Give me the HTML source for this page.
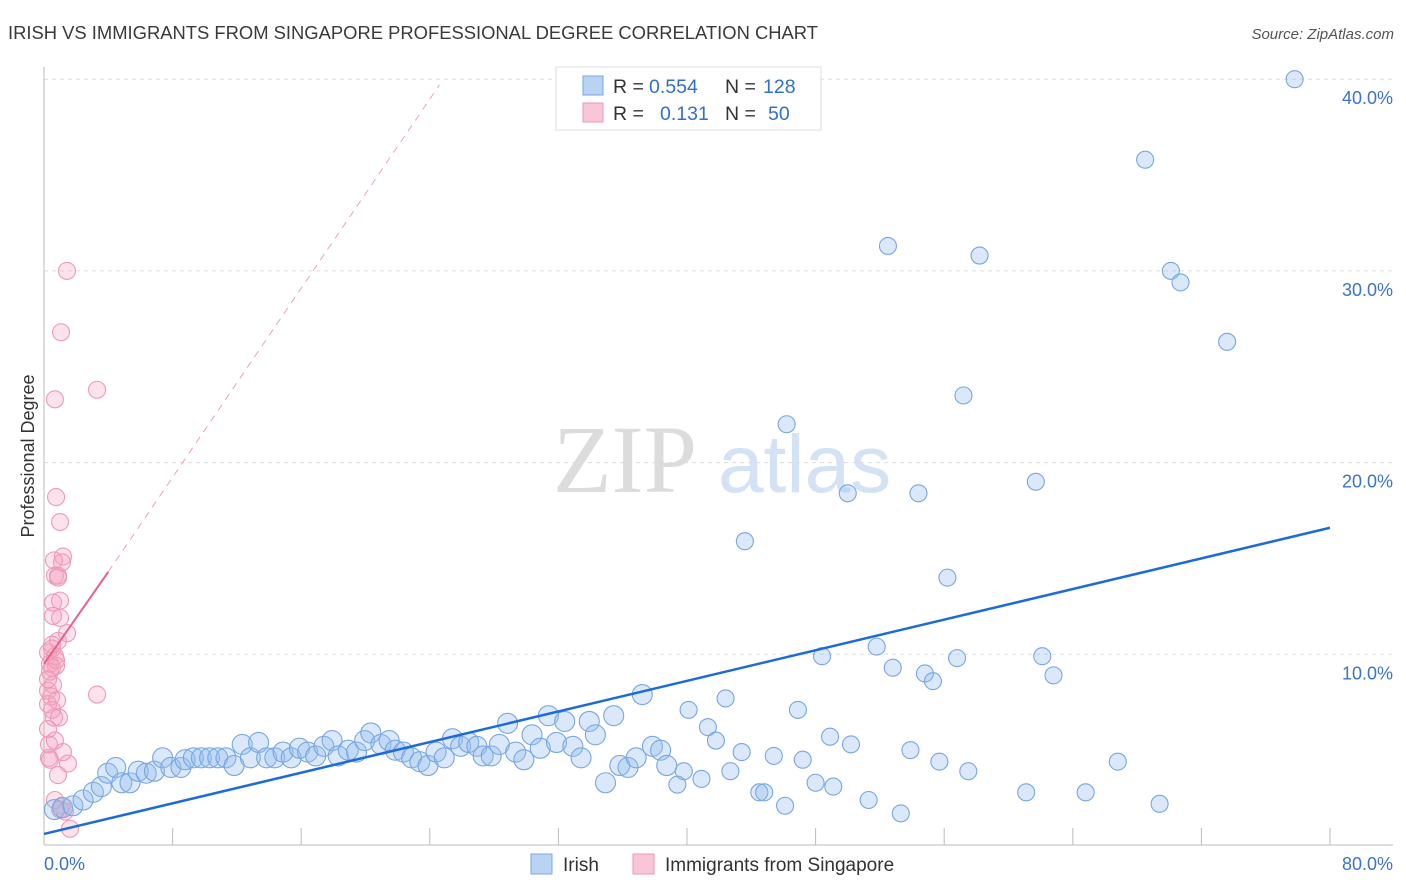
<!DOCTYPE html>
<html><head><meta charset="utf-8"><style>
html,body{margin:0;padding:0;background:#fff;}
svg{display:block;font-family:"Liberation Sans",sans-serif;}
</style></head><body>
<svg id="chart" width="1406" height="892" viewBox="0 0 1406 892">
<text x="8" y="39" font-size="18.4" fill="#3a3a3a">IRISH VS IMMIGRANTS FROM SINGAPORE PROFESSIONAL DEGREE CORRELATION CHART</text>
<text x="1394" y="39" font-size="15" fill="#555" font-style="italic" text-anchor="end">Source: ZipAtlas.com</text>
<g>
<text x="553" y="492" font-size="96" font-family="Liberation Serif,serif" fill="#dcdcdc">ZIP</text>
<text x="718" y="492" font-size="82" fill="#d3e2f4">atlas</text>
</g>
<g id="grid"></g>
<g id="axes"></g>
<g id="marks"></g>
<text transform="translate(34,456) rotate(-90)" font-size="18" fill="#333" text-anchor="middle">Professional Degree</text>
<g>
<rect x="556" y="67" width="265" height="63" fill="#fff" stroke="#ddd"/>
<rect x="583" y="76" width="20" height="19" fill="#b9d3f3" stroke="#7aa7e0"/>
<text x="613" y="93" font-size="19.5" fill="#333">R =</text>
<text x="649" y="93" font-size="19.5" fill="#2f6fd0">0.554</text>
<text x="725" y="93" font-size="19.5" fill="#333">N =</text>
<text x="763" y="93" font-size="19.5" fill="#2f6fd0">128</text>
<rect x="583" y="103" width="20" height="19" fill="#f8c6d6" stroke="#ec98b3"/>
<text x="613" y="120" font-size="19.5" fill="#333">R =</text>
<text x="660" y="120" font-size="19.5" fill="#2f6fd0">0.131</text>
<text x="725" y="120" font-size="19.5" fill="#333">N =</text>
<text x="768" y="120" font-size="19.5" fill="#2f6fd0">50</text>
</g>
<g>
<rect x="531" y="854" width="21" height="20" fill="#b9d3f3" stroke="#7aa7e0"/>
<text x="563" y="871" font-size="19" fill="#333">Irish</text>
<rect x="633" y="854" width="21" height="20" fill="#f8c6d6" stroke="#ec98b3"/>
<text x="665" y="871" font-size="19" fill="#333">Immigrants from Singapore</text>
</g>
</svg>
<script>
const irishX=[77.8,68.5,52.5,58.2,70.1,70.7,73.6,57.2,46.2,50.0,54.4,61.7,43.6,56.2,48.4,51.8,52.8,54.8,55.3,56.8,62.1,62.8,42.4,46.9,40.1,41.3,41.8,43.4,45.4,48.9,50.2,53.9,55.7,57.5,47.2,42.7,39.8,40.9,39.4,48.0,49.1,44.5,44.8,46.1,51.3,53.3,61.1,64.8,66.8,69.4,
0.65,1.16,1.80,2.43,3.07,3.57,3.96,4.46,4.84,5.35,5.86,6.36,6.87,7.38,7.89,8.52,8.78,9.29,9.79,10.3,10.81,11.32,11.83,12.33,12.84,13.35,13.85,14.36,14.87,15.38,15.89,16.4,16.9,17.41,17.92,18.3,18.93,19.44,19.95,20.33,20.96,21.47,21.85,22.36,22.87,23.38,23.89,24.39,24.9,25.41,25.92,26.42,26.93,27.32,27.82,28.33,28.84,29.34,29.85,30.36,30.87,31.38,31.88,32.39,32.9,33.41,33.92,34.3,34.93,35.44,35.82,36.33,36.84,37.22,37.85,38.36,38.74];
const irishY=[40.0,35.8,31.3,30.8,30.0,29.4,26.3,23.5,22.0,18.4,18.4,19.0,15.9,14.0,9.9,10.4,9.3,9.0,8.6,9.8,9.9,8.9,7.7,7.1,7.1,6.2,5.5,4.9,4.7,5.7,5.3,5.0,4.4,3.9,4.5,3.9,3.9,3.5,3.2,3.3,3.1,2.8,2.8,2.1,2.4,1.7,2.8,2.8,4.4,2.2,
1.9,2.0,2.1,2.4,2.8,3.1,3.8,4.1,3.3,3.3,3.9,3.8,3.9,4.6,4.1,4.1,4.5,4.6,4.6,4.6,4.6,4.6,4.2,5.3,4.6,5.4,4.6,4.6,4.9,4.6,5.1,4.9,4.7,5.2,5.5,4.7,5.0,4.9,5.5,5.9,5.3,5.5,5.0,4.9,4.6,4.4,4.2,4.9,4.6,5.6,5.2,5.4,5.2,4.7,4.7,5.3,6.4,4.9,4.5,5.8,5.1,6.8,5.4,6.5,5.2,4.6,6.5,5.8,3.3,6.8,4.2,4.1,4.6,7.9,5.2,5.0,4.2];
const sgX=[1.43,1.06,0.68,3.3,0.75,1.0,1.18,0.62,1.12,0.68,0.87,1.0,0.56,0.56,1.43,0.87,0.5,0.25,0.68,0.37,0.75,0.37,0.56,0.25,0.44,3.3,0.25,0.62,0.93,0.25,0.68,1.18,0.31,1.49,0.87,1.0,1.3,1.62,0.37,0.5,0.81,0.5,0.25,0.75,0.5,1.0,0.87,0.31,1.12,0.68];
const sgY=[30.0,26.8,23.3,23.8,18.2,16.9,15.1,14.9,14.8,14.1,14.1,12.8,12.7,12.0,11.1,10.7,10.3,10.1,9.9,9.5,9.4,9.1,8.4,8.1,7.8,7.9,7.4,6.7,6.7,6.1,5.5,4.9,4.6,4.3,3.7,1.9,1.8,0.9,4.5,9.3,7.6,7.1,8.7,9.7,10.5,11.9,14.0,5.3,2.1,2.4];
const yTicks=[10,20,30,40];
const yTickLabels=["10.0%","20.0%","30.0%","40.0%"];
const xTicks=[0,8,16,24,32,40,48,56,64,72,80];
const irishTrend=[[0,0.63],[80,16.6]];
const sgTrendSolid=[[0,9.5],[4.0,14.3]];
const sgTrendDashed=[[4.0,14.3],[24.6,39.7]];

const X0=44,X1=1330,YB=846,YPER=19.17;
function sx(v){return X0+v/80*(X1-X0);}
function sy(v){return YB-v*YPER;}
const NS='http://www.w3.org/2000/svg';
function mk(tag,attrs,parent){const e=document.createElementNS(NS,tag);for(const k in attrs)e.setAttribute(k,attrs[k]);parent.appendChild(e);return e;}
const grid=document.getElementById('grid'),axes=document.getElementById('axes'),marks=document.getElementById('marks');
yTicks.forEach((t,i)=>{
  const l=mk('line',{x1:X0,x2:1393,y1:sy(t),y2:sy(t),stroke:'#dcdcdc','stroke-dasharray':'4,4'},grid);
  
  
  const tx=mk('text',{x:1393,y:sy(t)+25,'font-size':18,fill:'#3b73c9','text-anchor':'end'},axes);
  tx.textContent=yTickLabels[i];
  
  
});
mk('line',{x1:X0,x2:X0,y1:67,y2:845,stroke:'#bbb'},axes);
mk('line',{x1:X0,x2:1393,y1:845,y2:845,stroke:'#bbb'},axes);
xTicks.forEach(t=>{
  const l=mk('line',{x1:sx(t),x2:sx(t),y1:828,y2:845,stroke:'#bbb'},axes);
  
  
});
const xl0=mk('text',{x:X0,y:870,'font-size':18,fill:'#3b73c9'},axes);xl0.textContent='0.0%';


const xl1=mk('text',{x:1393,y:870,'font-size':18,fill:'#3b73c9','text-anchor':'end'},axes);xl1.textContent='80.0%';



sgX.forEach((v,i)=>{
  const c=mk('circle',{cx:sx(v),cy:sy(sgY[i]),r:8.5,fill:'rgba(244,160,188,0.3)',stroke:'#ee9ab6','stroke-width':1.1},marks);
  
  
});
irishX.forEach((v,i)=>{
  const c=mk('circle',{cx:sx(v),cy:sy(irishY[i]),r:v<39?10:8.5,fill:'rgba(150,188,238,0.35)',stroke:'#78a6e2','stroke-width':1.1},marks);
  
  
});
const tl=mk('line',{x1:sx(irishTrend[0][0]),y1:sy(irishTrend[0][1]),x2:sx(irishTrend[1][0]),y2:sy(irishTrend[1][1]),stroke:'#1d6bd6','stroke-width':2.5},marks);


const ps=mk('line',{x1:sx(sgTrendSolid[0][0]),y1:sy(sgTrendSolid[0][1]),x2:sx(sgTrendSolid[1][0]),y2:sy(sgTrendSolid[1][1]),stroke:'#e8628e','stroke-width':2},marks);


const pd=mk('line',{x1:sx(sgTrendDashed[0][0]),y1:sy(sgTrendDashed[0][1]),x2:sx(sgTrendDashed[1][0]),y2:sy(sgTrendDashed[1][1]),stroke:'#eea0b8','stroke-width':1,'stroke-dasharray':'7,6'},marks);


</script>
</body></html>
